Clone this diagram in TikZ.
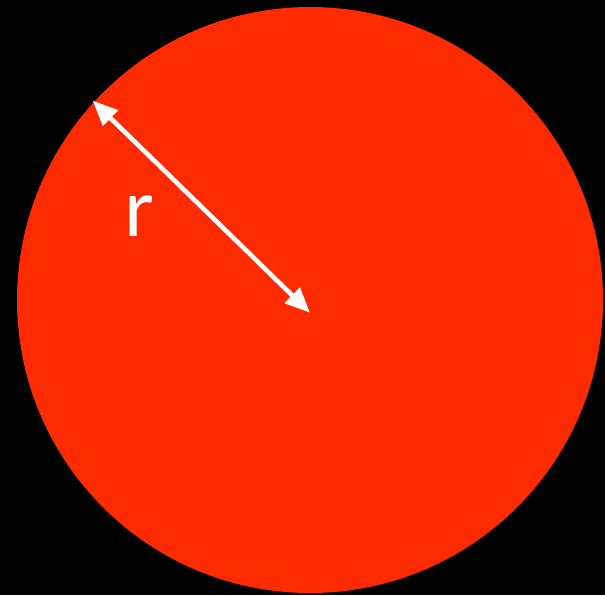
\documentclass[tikz,border=0pt]{standalone}
\usepackage{fontspec}
\setmainfont{Lato}
\usetikzlibrary{arrows.meta,positioning}
\definecolor{blaze}{RGB}{255,43,0}
\tikzset{
  >={Triangle[length=25pt,width=21pt]},
  disc/.style={fill=blaze},
  radius arrow/.style={<->,draw=white,line width=4.6pt},
  letter/.style={text=white,inner sep=0pt,font=\fontsize{79}{79}\selectfont},
}
\begin{document}
\begin{tikzpicture}[x=1pt,y=-1pt]
  \fill[black] (0,0) rectangle (605,595);
  \coordinate (centre) at (310,300);
  \fill[disc] (centre) circle (293);
  \coordinate (rim) at (92.7,100.7);
  \coordinate (mid) at (310,312.7);
  \draw[radius arrow] (rim) -- (mid);
  \node[letter,anchor=base] (r) at (138.5,236.5) {r};
\end{tikzpicture}
\end{document}
